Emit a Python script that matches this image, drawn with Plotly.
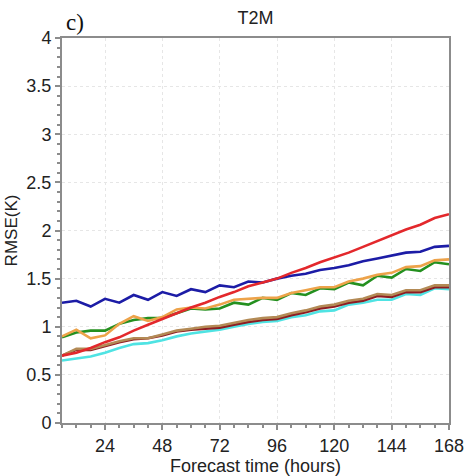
import plotly.graph_objects as go

hours = [6, 12, 18, 24, 30, 36, 42, 48, 54, 60, 66, 72, 78, 84, 90, 96, 102, 108,
         114, 120, 126, 132, 138, 144, 150, 156, 162, 168]

cyan = [0.65, 0.67, 0.69, 0.73, 0.78, 0.82, 0.83, 0.86, 0.90, 0.93, 0.95, 0.97, 1.00, 1.03,
        1.05, 1.06, 1.10, 1.12, 1.16, 1.17, 1.23, 1.25, 1.28, 1.28, 1.34, 1.33, 1.40, 1.39]
maroon = [0.70, 0.76, 0.76, 0.80, 0.84, 0.87, 0.88, 0.91, 0.95, 0.97, 0.98, 0.99, 1.02, 1.05,
          1.07, 1.08, 1.12, 1.15, 1.19, 1.21, 1.25, 1.27, 1.32, 1.31, 1.36, 1.36, 1.41, 1.41]
tan = [0.70, 0.77, 0.77, 0.81, 0.85, 0.88, 0.88, 0.92, 0.96, 0.98, 1.00, 1.01, 1.04, 1.07,
       1.09, 1.10, 1.14, 1.17, 1.21, 1.23, 1.27, 1.29, 1.34, 1.33, 1.38, 1.38, 1.43, 1.43]
green = [0.89, 0.94, 0.96, 0.96, 1.03, 1.07, 1.09, 1.09, 1.14, 1.19, 1.18, 1.19, 1.25, 1.23,
         1.30, 1.28, 1.35, 1.33, 1.40, 1.39, 1.46, 1.43, 1.53, 1.51, 1.60, 1.58, 1.67, 1.65]
orange = [0.90, 0.97, 0.88, 0.91, 1.03, 1.11, 1.06, 1.10, 1.18, 1.20, 1.19, 1.23, 1.28, 1.29,
          1.30, 1.30, 1.35, 1.38, 1.41, 1.41, 1.47, 1.50, 1.54, 1.56, 1.62, 1.63, 1.69, 1.70]
blue = [1.25, 1.27, 1.21, 1.29, 1.25, 1.33, 1.28, 1.36, 1.32, 1.39, 1.36, 1.43, 1.41, 1.47,
        1.46, 1.50, 1.53, 1.55, 1.59, 1.61, 1.64, 1.68, 1.71, 1.74, 1.77, 1.78, 1.83, 1.84]
red = [0.70, 0.73, 0.78, 0.84, 0.89, 0.96, 1.02, 1.08, 1.14, 1.20, 1.25, 1.31, 1.36, 1.42,
       1.46, 1.50, 1.56, 1.61, 1.67, 1.72, 1.77, 1.83, 1.89, 1.95, 2.01, 2.06, 2.13, 2.17]

x_ticks = [24, 48, 72, 96, 120, 144, 168]

series = [
    ("cyan", cyan, "#4fe3e3"),
    ("maroon", maroon, "#8e1c22"),
    ("tan", tan, "#b38a55"),
    ("green", green, "#24901f"),
    ("orange", orange, "#eda34a"),
    ("blue", blue, "#1c1ca6"),
    ("red", red, "#e3282c"),
]

fig = go.Figure()
for name, vals, col in series:
    fig.add_trace(go.Scatter(x=hours, y=vals, mode="lines", name=name,
                             line=dict(color=col, width=2.6), showlegend=False))

axis_common = dict(
    showline=True, linecolor="#8c8c8c", linewidth=2, mirror=True,
    ticks="outside", tickcolor="#8c8c8c", ticklen=5, tickwidth=1.5,
    showgrid=True, gridcolor="#e6e6e6", griddash="dot", gridwidth=1,
    zeroline=False, automargin=False,
    tickfont=dict(family="Liberation Sans, Arial", size=18, color="#222"),
)

fig.update_xaxes(range=[6, 168], tickvals=x_ticks, ticktext=[str(v) for v in x_ticks],
                 minor=dict(dtick=6, tick0=0, ticks="outside", ticklen=3, tickcolor="#8c8c8c", showgrid=False),
                 title=dict(text="Forecast time (hours)", standoff=4,
                            font=dict(family="Liberation Sans, Arial", size=18, color="#222")),
                 **axis_common)
fig.update_yaxes(range=[0, 4], dtick=0.5, tick0=0,
                 minor=dict(dtick=0.1, ticks="outside", ticklen=3, tickcolor="#8c8c8c", showgrid=False),
                 title=dict(text="RMSE(K)", standoff=4,
                            font=dict(family="Liberation Sans, Arial", size=17, color="#222")),
                 **axis_common)

fig.update_layout(
    width=474, height=476,
    margin=dict(l=62, r=25, t=38, b=53),
    paper_bgcolor="white", plot_bgcolor="white",
    title=dict(text="T2M", x=0.5, xref="paper", y=0.962, yanchor="middle",
               font=dict(family="Liberation Sans, Arial", size=18, color="#222")),
    annotations=[dict(text="c)", xref="paper", yref="paper", x=0.0, y=1.0,
                      xanchor="left", yanchor="bottom", showarrow=False, xshift=2, yshift=1,
                      font=dict(family="Liberation Serif, Times New Roman", size=23, color="#111"))],
)

fig.write_html("out.html")
